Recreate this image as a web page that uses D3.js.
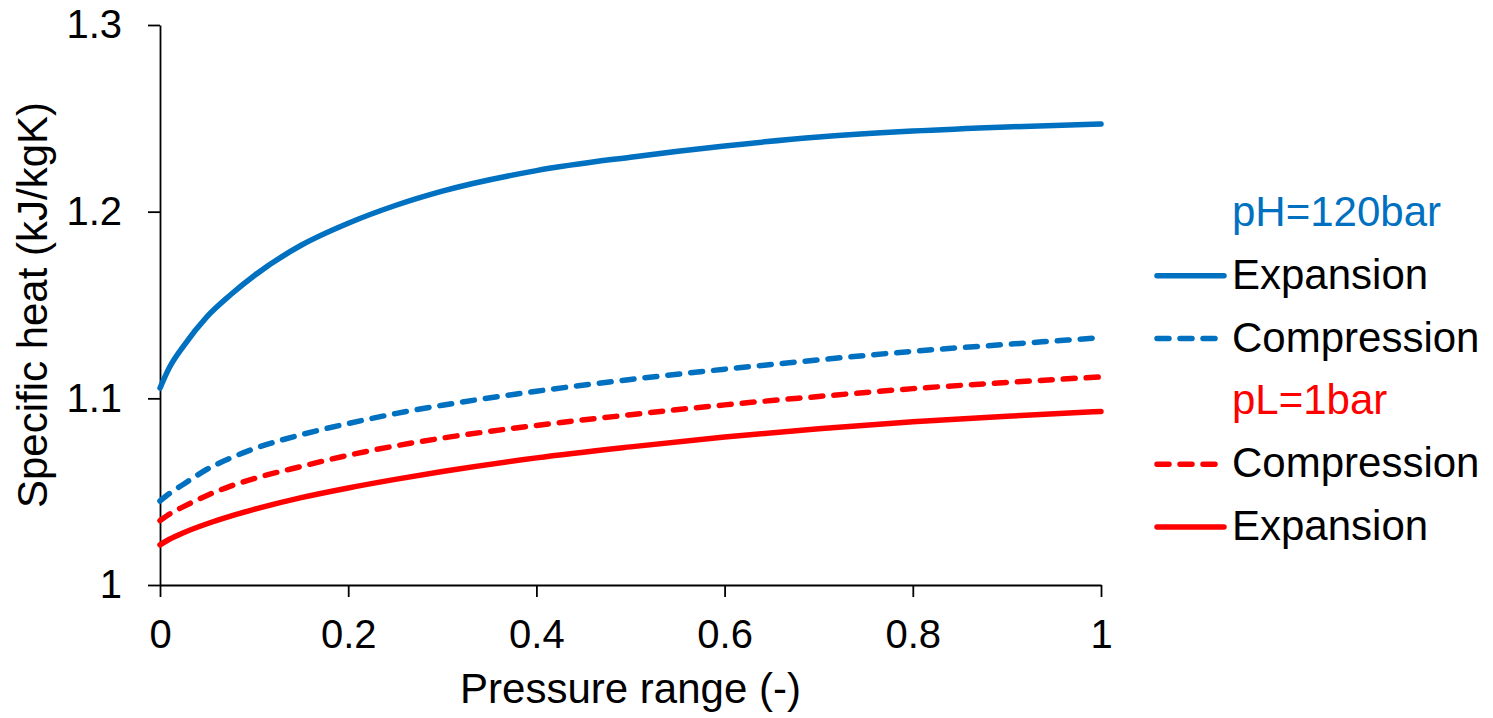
<!DOCTYPE html>
<html>
<head>
<meta charset="utf-8">
<script src="https://cdn.jsdelivr.net/npm/d3@7"></script>
<style>
  body { margin: 0; background: #fff; }
  svg { display: block; font-family: Arial, "Liberation Sans", sans-serif; }
</style>
</head>
<body>
<svg id="chart" width="1493" height="718"></svg>
<script>
// pressure range sample points
const xs = [0, 0.01, 0.025, 0.05, 0.075, 0.1, 0.15, 0.2, 0.25, 0.3, 0.4, 0.5, 0.6, 0.7, 0.8, 0.9, 1.0];

// specific heat values (kJ/kgK)
const highExpansion   = [1.1055, 1.1165, 1.128, 1.1438, 1.1555, 1.1657, 1.182, 1.1938, 1.2033, 1.211, 1.222, 1.2292, 1.2352, 1.24, 1.2432, 1.2454, 1.247];
const highCompression = [1.045, 1.049, 1.054, 1.062, 1.068, 1.073, 1.0805, 1.0865, 1.0918, 1.0963, 1.1038, 1.1101, 1.1156, 1.1206, 1.1252, 1.1289, 1.1325];
const lowCompression  = [1.0345, 1.038, 1.042, 1.048, 1.053, 1.057, 1.0635, 1.0695, 1.0745, 1.0787, 1.0855, 1.0912, 1.0965, 1.101, 1.1052, 1.1085, 1.1115];
const lowExpansion    = [1.0215, 1.0245, 1.028, 1.0328, 1.0369, 1.0405, 1.0468, 1.052, 1.0566, 1.0608, 1.0681, 1.074, 1.0793, 1.0837, 1.0874, 1.0904, 1.093];

const xTicks = [0, 0.2, 0.4, 0.6, 0.8, 1];
const yTicks = [1, 1.1, 1.2, 1.3];

const blue = '#0070C0';
const red = '#FF0000';

const series = [
  { values: highExpansion, color: blue, dashed: false },
  { values: highCompression, color: blue, dashed: true },
  { values: lowCompression, color: red, dashed: true },
  { values: lowExpansion, color: red, dashed: false }
];

// legend: group headers and entries, top to bottom
const legendRows = [
  { label: 'pH=120bar', color: blue, header: true },
  { label: 'Expansion', color: blue, dashed: false },
  { label: 'Compression', color: blue, dashed: true },
  { label: 'pL=1bar', color: red, header: true },
  { label: 'Compression', color: red, dashed: true },
  { label: 'Expansion', color: red, dashed: false }
];

const svg = d3.select('#chart');
const plot = { left: 160, right: 1101, top: 25, bottom: 585 };

const x = d3.scaleLinear().domain([0, 1]).range([plot.left, plot.right]);
const y = d3.scaleLinear().domain([1, 1.3]).range([plot.bottom, plot.top]);

// axes
const yAxis = svg.append('g')
  .attr('transform', `translate(${plot.left},0)`)
  .call(d3.axisLeft(y).tickValues(yTicks).tickFormat(d3.format('')).tickSize(12).tickSizeOuter(0).tickPadding(26));

const xAxis = svg.append('g')
  .attr('transform', `translate(0,${plot.bottom})`)
  .call(d3.axisBottom(x).tickValues(xTicks).tickFormat(d3.format('')).tickSize(12).tickSizeOuter(0).tickPadding(23));

[xAxis, yAxis].forEach(g => {
  g.select('.domain').attr('stroke', '#000').attr('stroke-width', 1.8);
  g.selectAll('.tick line').attr('stroke', '#000').attr('stroke-width', 1.8);
  g.selectAll('.tick text').attr('fill', '#000').style('font-size', '40px')
    .style('font-family', 'Arial, "Liberation Sans", sans-serif');
});

// axis titles
svg.append('text')
  .attr('x', (plot.left + plot.right) / 2)
  .attr('y', 703)
  .attr('text-anchor', 'middle')
  .style('font-size', '42px')
  .text('Pressure range (-)');

svg.append('text')
  .attr('transform', `translate(47,${(plot.top + plot.bottom) / 2}) rotate(-90)`)
  .attr('text-anchor', 'middle')
  .style('font-size', '42px')
  .text('Specific heat (kJ/kgK)');

// curves
const line = d3.line()
  .x((d, i) => x(xs[i]))
  .y(d => y(d))
  .curve(d3.curveMonotoneX);

series.forEach(s => {
  svg.append('path')
    .datum(s.values)
    .attr('d', line)
    .attr('fill', 'none')
    .attr('stroke', s.color)
    .attr('stroke-width', 5.5)
    .attr('stroke-linecap', 'round')
    .attr('stroke-dasharray', s.dashed ? '12 11' : null);
});

// legend
const legend = svg.append('g');
const rowY = d3.scalePoint().domain(d3.range(legendRows.length)).range([226, 540]);

legendRows.forEach((r, i) => {
  const by = rowY(i);
  if (!r.header) {
    legend.append('line')
      .attr('x1', 1157).attr('x2', 1224)
      .attr('y1', by - 13).attr('y2', by - 13)
      .attr('stroke', r.color)
      .attr('stroke-width', 5.5)
      .attr('stroke-linecap', 'round')
      .attr('stroke-dasharray', r.dashed ? '12 11' : null);
  }
  legend.append('text')
    .attr('x', 1232)
    .attr('y', by)
    .attr('fill', r.header ? r.color : '#000')
    .style('font-size', '42px')
    .text(r.label);
});
</script>
</body>
</html>
